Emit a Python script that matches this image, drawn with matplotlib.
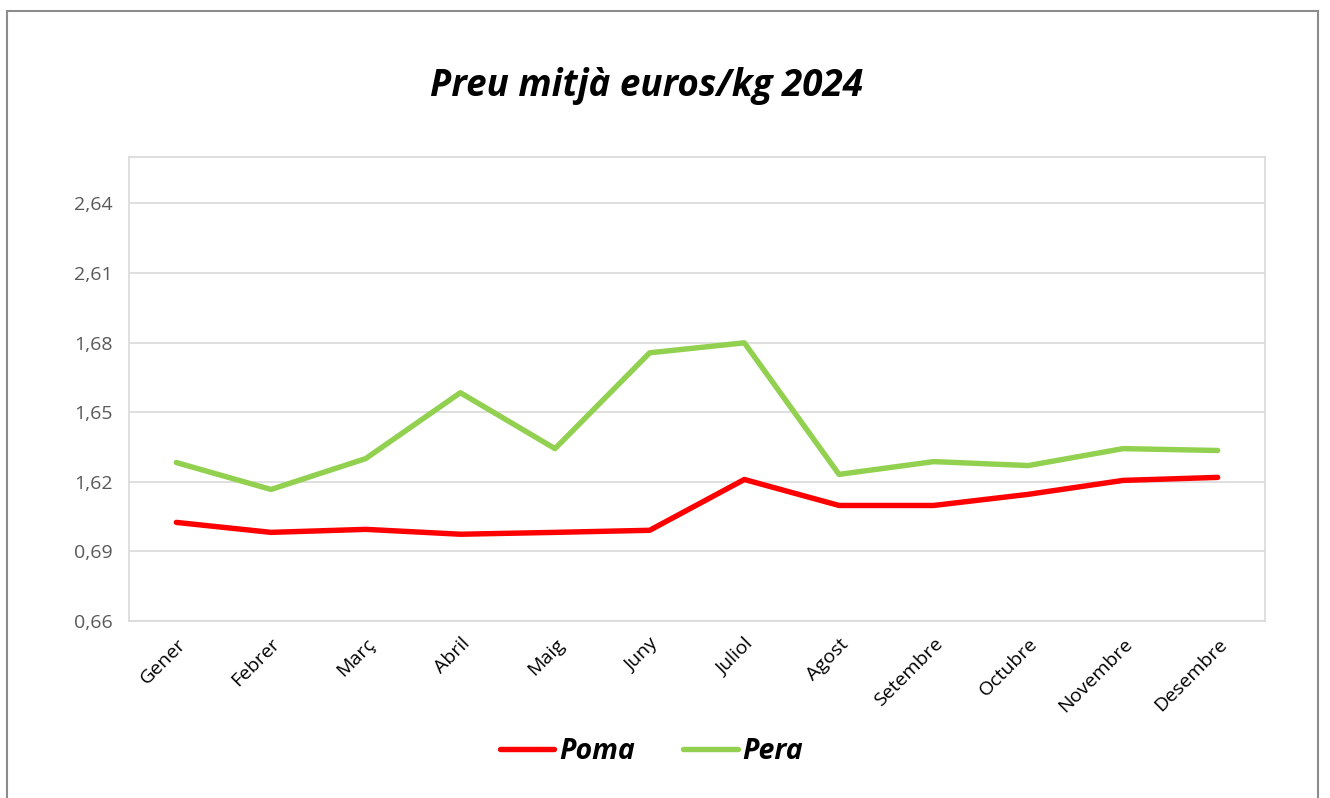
import matplotlib.pyplot as plt
from matplotlib.patches import Rectangle

plt.rcParams.update({
    "font.family": ["Open Sans", "DejaVu Sans"],
    "font.size": 14,
})

months = ["Gener", "Febrer", "Març", "Abril", "Maig", "Juny", "Juliol",
          "Agost", "Setembre", "Octubre", "Novembre", "Desembre"]
poma = [0.7025, 0.6982, 0.6995, 0.6974, 0.6982, 0.6991, 0.7210,
        0.7098, 0.7098, 0.7146, 0.7206, 0.7219]
pera = [0.7283, 0.7167, 0.7300, 0.7584, 0.7343, 0.7756, 0.7799,
        0.7232, 0.7287, 0.7270, 0.7343, 0.7335]
ytick_vals = [0.66, 0.69, 0.72, 0.75, 0.78, 0.81, 0.84]
ytick_labels = ["0,66", "0,69", "1,62", "1,65", "1,68", "2,61", "2,64"]

fig = plt.figure(figsize=(13.3, 7.98), dpi=100)
fig.patches.append(Rectangle((7 / 1330, -0.01), 1311 / 1330, 1 - 11 / 798 + 0.01,
                             transform=fig.transFigure, fill=False,
                             edgecolor="#8c8c8c", linewidth=1.5))

ax = fig.add_axes([129 / 1330, 177 / 798, 1136 / 1330, 464 / 798])
x = range(len(months))
ax.plot(x, poma, color="#ff0000", lw=3.9, label="Poma", solid_capstyle="round")
ax.plot(x, pera, color="#92d050", lw=3.9, label="Pera", solid_capstyle="round")

ax.set_xlim(-0.5, len(months) - 0.5)
ax.set_ylim(0.66, 0.86)
ax.set_yticks(ytick_vals)
ax.set_yticklabels(ytick_labels, color="#595959")
ax.set_xticks(list(x))
ax.set_xticklabels(months, rotation=45, ha="right", rotation_mode="anchor",
                   color="#000000")
ax.tick_params(axis="both", length=0, pad=12)
ax.tick_params(axis="x", pad=10)
ax.grid(axis="y", color="#d9d9d9", lw=1.2)
ax.set_axisbelow(True)
for s in ax.spines.values():
    s.set_color("#d9d9d9")
    s.set_linewidth(1.2)

fig.text(0.486, 0.892, "Preu mitjà euros/kg 2024", ha="center", va="center",
         fontsize=26.5, fontweight="bold", fontstyle="italic")

leg = fig.legend(loc="center", bbox_to_anchor=(0.49, 0.058), ncol=2, frameon=False,
                 prop={"size": 20.5, "weight": "bold", "style": "italic"},
                 handlelength=1.9, handletextpad=0.18, columnspacing=1.7)

plt.savefig("out.png", dpi=100)
